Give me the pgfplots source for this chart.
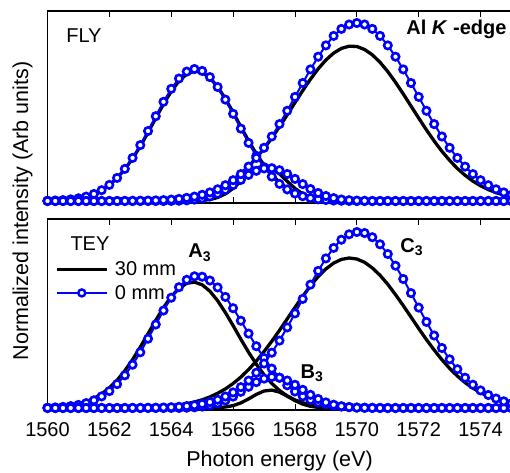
\documentclass[border=0pt]{standalone}
\usepackage{fontspec}
\setmainfont{Liberation Sans}
\usepackage{pgfplots}
\usepackage{pgfplotstable}
\pgfplotsset{compat=1.18}

\pgfplotstableread{
x kA bA kB bB kC bC
1560.00 0.3 0.3 0 0 0 0
1560.25 0.5 0.5 0 0 0 0
1560.50 0.9 0.9 0 0 0 0
1560.75 1.6 1.6 0 0 0 0
1561.00 2.8 2.7 0 0 0 0
1561.25 4.5 4.4 0 0 0 0
1561.50 7.2 7.0 0 0 0 0
1561.75 10.9 10.8 0 0 0 0
1562.00 16.1 16.1 0 0 0 0
1562.25 23.0 23.1 0 0 0.1 0
1562.50 31.8 32.1 0 0 0.1 0.1
1562.75 42.4 43.1 0 0 0.2 0.2
1563.00 54.8 55.9 0 0 0.3 0.3
1563.25 68.5 70.0 0 0 0.5 0.4
1563.50 82.9 84.8 0 0 0.7 0.6
1563.75 96.9 99.2 0 0 1.1 0.9
1564.00 109.6 112.2 0 0.1 1.6 1.4
1564.25 120.0 122.5 0 0.3 2.3 2.1
1564.50 126.9 129.4 0.1 0.7 3.4 3.1
1564.75 129.9 132.0 0.2 1.4 4.8 4.4
1565.00 128.6 130.1 0.6 2.5 6.7 6.2
1565.25 123.2 123.9 1.5 4.5 9.2 8.6
1565.50 114.1 114.0 3.5 7.3 12.4 11.7
1565.75 102.2 101.4 7.1 11.1 16.4 15.8
1566.00 88.6 87.2 12.6 15.9 21.4 20.8
1566.25 74.2 72.4 19.7 21.1 27.5 26.9
1566.50 60.2 58.1 27.1 26.1 34.7 34.4
1566.75 47.2 45.1 32.8 30.2 43.0 43.1
1567.00 35.8 33.8 35.0 32.6 52.5 53.2
1567.25 26.3 24.4 32.8 32.8 63.0 64.5
1567.50 18.6 17.1 27.1 30.8 74.3 76.9
1567.75 12.8 11.6 19.7 27.0 86.2 90.2
1568.00 8.5 7.5 12.6 22.1 98.4 104.1
1568.25 5.5 4.8 7.1 16.9 110.4 118.0
1568.50 3.4 2.9 3.5 12.0 121.8 131.6
1568.75 2.0 1.7 1.5 8.0 132.2 144.3
1569.00 1.2 1.0 0.6 5.0 141.0 155.6
1569.25 0.7 0.5 0.2 2.9 147.9 165.1
1569.50 0.4 0.3 0 1.5 152.6 172.1
1569.75 0.2 0.1 0 0.8 154.8 176.5
1570.00 0.1 0 0 0.4 154.5 178.0
1570.25 0 0 0 0.2 151.5 176.5
1570.50 0 0 0 0 146.2 172.1
1570.75 0 0 0 0 138.7 165.1
1571.00 0 0 0 0 129.4 155.6
1571.25 0 0 0 0 118.7 144.3
1571.50 0 0 0 0 107.1 131.6
1571.75 0 0 0 0 95.0 118.0
1572.00 0 0 0 0 82.9 104.1
1572.25 0 0 0 0 71.1 90.2
1572.50 0 0 0 0 60.0 76.9
1572.75 0 0 0 0 49.7 64.5
1573.00 0 0 0 0 40.6 53.2
1573.25 0 0 0 0 32.5 43.1
1573.50 0 0 0 0 25.7 34.4
1573.75 0 0 0 0 19.9 26.9
1574.00 0 0 0 0 15.2 20.8
1574.25 0 0 0 0 11.4 15.8
1574.50 0 0 0 0 8.4 11.7
1574.75 0 0 0 0 6.1 8.6
1575.00 0 0 0 0 4.3 6.2
}\topdata

\pgfplotstableread{
x kA bA kB bB kC bC
1560.00 0.5 0.3 0 0 0 0
1560.25 0.9 0.6 0 0 0 0
1560.50 1.5 1.1 0 0 0 0
1560.75 2.5 1.9 0 0 0 0
1561.00 4.0 3.1 0 0 0 0
1561.25 6.3 4.9 0 0 0 0
1561.50 9.6 7.7 0 0 0 0
1561.75 14.1 11.6 0 0 0 0
1562.00 20.1 16.9 0 0 0.1 0
1562.25 27.8 23.9 0 0 0.1 0
1562.50 37.3 32.7 0 0 0.2 0
1562.75 48.4 43.3 0 0 0.3 0.1
1563.00 60.9 55.7 0 0 0.4 0.1
1563.25 74.3 69.3 0 0 0.7 0.2
1563.50 87.7 83.5 0 0 1.0 0.3
1563.75 100.4 97.5 0 0 1.5 0.5
1564.00 111.4 110.3 0 0.1 2.1 0.8
1564.25 119.7 120.8 0 0.1 3.1 1.2
1564.50 124.7 128.2 0 0.3 4.3 1.9
1564.75 125.9 131.7 0 0.7 6.0 2.8
1565.00 123.2 131.3 0 1.4 8.2 4.1
1565.25 116.8 127.5 0.1 2.6 11.1 5.9
1565.50 107.3 120.6 0.3 4.6 14.7 8.3
1565.75 95.5 111.1 1.0 7.5 19.1 11.5
1566.00 82.4 99.8 2.4 11.4 24.5 15.6
1566.25 68.8 87.3 5.1 16.2 30.9 20.9
1566.50 55.8 74.4 9.1 21.2 38.4 27.4
1566.75 43.8 61.8 13.6 25.9 46.9 35.3
1567.00 33.3 50.0 17.0 29.4 56.4 44.5
1567.25 24.6 39.4 17.9 31.0 66.7 55.3
1567.50 17.5 30.3 15.9 30.3 77.7 67.4
1567.75 12.1 22.7 11.8 27.5 89.1 80.6
1568.00 8.1 16.5 7.4 23.2 100.6 94.6
1568.25 5.3 11.7 3.9 18.2 111.7 109.1
1568.50 3.3 8.1 1.7 13.2 122.1 123.4
1568.75 2.0 5.5 0.6 9.0 131.4 137.1
1569.00 1.2 3.6 0.2 5.6 139.1 149.6
1569.25 0.7 2.3 0 3.3 144.9 160.1
1569.50 0.4 1.4 0 1.8 148.6 168.3
1569.75 0.2 0.9 0 0.9 150.0 173.7
1570.00 0.1 0.5 0 0.4 149.0 176.0
1570.25 0 0.3 0 0.2 145.7 175.0
1570.50 0 0.2 0 0.1 140.1 170.8
1570.75 0 0.1 0 0 132.7 163.7
1571.00 0 0 0 0 123.7 154.0
1571.25 0 0 0 0 113.4 142.3
1571.50 0 0 0 0 102.4 129.0
1571.75 0 0 0 0 91.0 114.9
1572.00 0 0 0 0 79.5 100.4
1572.25 0 0 0 0 68.4 86.1
1572.50 0 0 0 0 58.0 72.5
1572.75 0 0 0 0 48.3 60.0
1573.00 0 0 0 0 39.6 48.7
1573.25 0 0 0 0 32.0 38.8
1573.50 0 0 0 0 25.4 30.3
1573.75 0 0 0 0 19.9 23.3
1574.00 0 0 0 0 15.3 17.6
1574.25 0 0 0 0 11.6 13.0
1574.50 0 0 0 0 8.6 9.5
1574.75 0 0 0 0 6.3 6.7
1575.00 0 0 0 0 4.6 4.7
}\botdata

\pgfplotsset{
  panel/.style={
    scale only axis, width=464pt, xmin=1560, xmax=1575, ymin=-2,
    axis line style={line width=1.1pt},
    tick align=inside,
    xtick={1560,1562,...,1574}, minor x tick num=1,
    major tick length=6pt, minor tick length=3.5pt,
    every tick/.style={black, line width=0.9pt},
    ytick=\empty,
    xticklabels={},
  },
  kline/.style={black, line width=3.3pt, no markers, forget plot},
  bline/.style={color=blue, line width=2pt, mark=*, mark size=3.7pt,
    mark options={line width=2.6pt, draw=blue, fill=white, solid}, forget plot},
}

\begin{document}
\begin{tikzpicture}
\useasboundingbox (0,0) rectangle (510pt,472pt);

\begin{axis}[panel, height=192pt, ymax=190, at={(47.5pt,269pt)}, anchor=south west,
  minor ytick={14,30,...,174}]
\addplot[kline] table[x=x,y=kA]{\topdata};
\addplot[kline] table[x=x,y=kB]{\topdata};
\addplot[kline] table[x=x,y=kC]{\topdata};
\addplot[bline] table[x=x,y=bA]{\topdata};
\addplot[bline] table[x=x,y=bB]{\topdata};
\addplot[bline] table[x=x,y=bC]{\topdata};
\node[anchor=base west, font=\fontsize{20}{24}\selectfont] at (rel axis cs:0.033,0.8385) {FLY};
\node[anchor=base east, font=\fontsize{20}{24}\selectfont\bfseries] at (rel axis cs:0.9968,0.875) {Al \textit{K} -edge};
\end{axis}

\begin{axis}[panel, height=191pt, ymax=189, at={(47.5pt,62pt)}, anchor=south west,
  minor ytick={30,62,...,158},
  xticklabels={1560,1562,1564,1566,1568,1570,1572,1574},
  xticklabel style={font=\fontsize{20}{24}\selectfont, anchor=base, yshift=-26pt},
  legend style={at={(rel axis cs:0.016,0.78)}, anchor=north west, draw=none, fill=none,
    font=\fontsize{20}{24}\selectfont, inner sep=0pt, row sep=7pt, column sep=6pt,
    nodes={inner sep=0.5pt}},
  legend cell align=left,
  legend image code/.code={\draw[mark repeat=2,mark phase=2,#1] plot coordinates {(0pt,0pt) (25pt,0pt) (50pt,0pt)};},
]
\addplot[kline] table[x=x,y=kA]{\botdata};
\addplot[kline] table[x=x,y=kB]{\botdata};
\addplot[kline] table[x=x,y=kC]{\botdata};
\addplot[bline] table[x=x,y=bA]{\botdata};
\addplot[bline] table[x=x,y=bB]{\botdata};
\addplot[bline] table[x=x,y=bC]{\botdata};
\addlegendimage{black, line width=3.3pt}
\addlegendentry{30 mm}
\addlegendimage{blue, line width=2.4pt, mark=*, mark size=3.5pt, mark options={line width=2.4pt, draw=blue, fill=white, solid}}
\addlegendentry{0 mm}
\node[anchor=base west, font=\fontsize{20}{24}\selectfont] at (rel axis cs:0.042,0.8377) {TEY};
\node[anchor=base west, font=\fontsize{20}{24}\selectfont\bfseries] at (rel axis cs:0.296,0.796) {A\textsubscript{3}};
\node[anchor=base west, font=\fontsize{20}{24}\selectfont\bfseries] at (rel axis cs:0.538,0.1675) {B\textsubscript{3}};
\node[anchor=base west, font=\fontsize{20}{24}\selectfont\bfseries] at (rel axis cs:0.753,0.827) {C\textsubscript{3}};
\end{axis}

\node[anchor=base, font=\fontsize{21.5}{25}\selectfont] at (279.5pt,6pt) {Photon energy (eV)};
\node[rotate=90, anchor=base, font=\fontsize{21.5}{25}\selectfont] at (28pt,261pt) {Normalized intensity (Arb units)};
\end{tikzpicture}
\end{document}
